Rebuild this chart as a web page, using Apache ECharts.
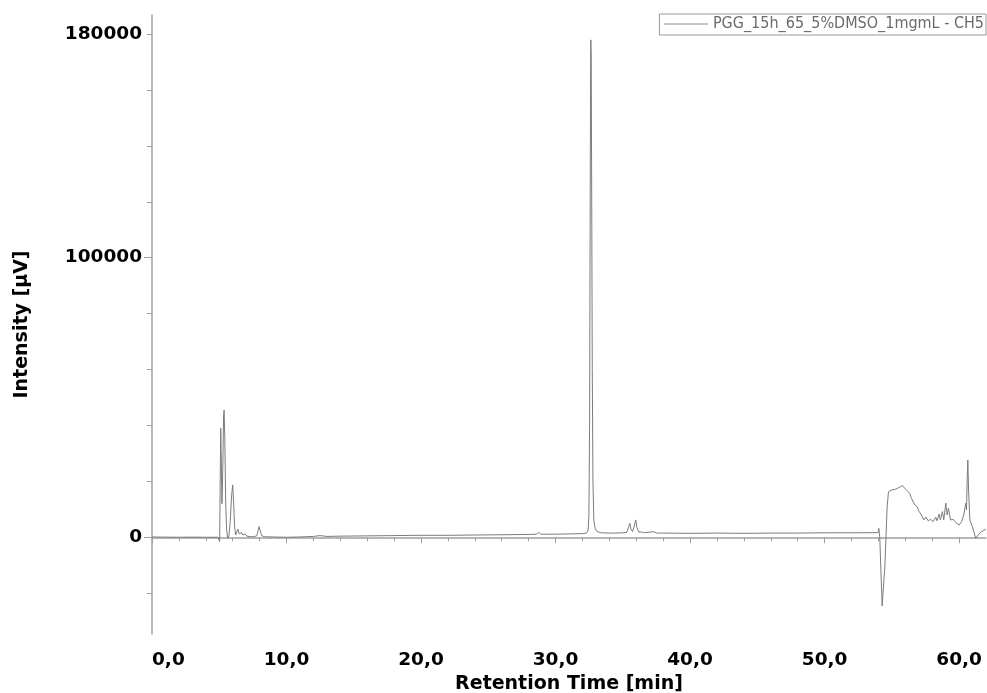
<!DOCTYPE html>
<html>
<head>
<meta charset="utf-8">
<title>PGG_15h_65_5%DMSO_1mgmL - CH5</title>
<script src="https://cdn.jsdelivr.net/npm/echarts@6/dist/echarts.min.js"></script>
<style>
  html, body { margin: 0; padding: 0; background: #fff; }
  #chart { width: 987px; height: 693px; }
</style>
</head>
<body>
<div id="chart"></div>
<script>
// Chromatogram trace, channel CH5
const seriesName = 'PGG_15h_65_5%DMSO_1mgmL - CH5';

// Retention time [min]
const retentionTime = [
  0, 1, 2, 3, 4, 4.6, 4.9, 4.98, 5.03, 5.07, 5.11, 5.15, 5.2, 5.26, 5.32, 5.36, 5.41, 5.48,
  5.55, 5.63, 5.72, 5.82, 5.92, 6.0, 6.06, 6.14, 6.22, 6.3, 6.39, 6.48, 6.58, 6.65, 6.75,
  6.9, 7.05, 7.3, 7.6, 7.8, 7.9, 7.96, 8.03, 8.15, 8.35, 9, 10, 11, 12, 12.5, 13, 14, 16,
  18, 20, 22, 24, 26, 28, 28.6, 28.75, 28.9, 30, 31, 32, 32.3, 32.42, 32.48, 32.53, 32.57,
  32.6, 32.62, 32.65, 32.69, 32.73, 32.78, 32.85, 32.95, 33.1, 33.4, 34, 34.5, 35.0, 35.14,
  35.3, 35.42, 35.52, 35.6, 35.72, 35.85, 35.96, 36.05, 36.2, 36.4, 36.6, 37.3, 37.5, 38,
  40, 42, 44, 46, 48, 50, 52, 53.98, 54.03, 54.1, 54.28, 54.48, 54.65, 54.75, 54.97, 55.29,
  55.64, 55.79, 55.96, 56.33, 56.46, 56.58, 56.71, 56.88, 57.03, 57.2, 57.38, 57.53, 57.7,
  57.88, 58.07, 58.26, 58.36, 58.51, 58.61, 58.76, 58.86, 59.01, 59.11, 59.21, 59.36, 59.56,
  59.81, 60.0, 60.18, 60.35, 60.5, 60.55, 60.6, 60.65, 60.7, 60.8, 61.0, 61.24, 61.41,
  61.66, 61.99
];

// Detector signal [µV]
const intensity = [
  100, 50, 0, 50, 0, 0, 0, -200, -1500, 20000, 39000, 28000, 12000, 24000, 43000, 45500, 36000, 12000,
  2500, -400, 500, 6000, 15000, 18700, 13000, 4000, 800, 1400, 2900, 1200, 1100, 1700, 800,
  1200, 400, 200, 200, 600, 2800, 3800, 2500, 600, 200, 100, 0, 100, 300, 600, 300, 400, 500,
  600, 700, 700, 800, 900, 1000, 1100, 1800, 1100, 1100, 1200, 1300, 1500, 2500, 8000, 40000, 110000,
  160000, 177900, 172000, 120000, 60000, 20000, 6000, 3000, 2000, 1600, 1500, 1500, 1600, 2200,
  1800, 3500, 5000, 3000, 2000, 4000, 6200, 3500, 1800, 1900, 1600, 2000, 1500, 1500,
  1400, 1500, 1400, 1500, 1500, 1600, 1600, 1650, 3200, 200, -24600, -10500, 10900, 16300, 16900, 17200,
  18100, 18500, 17500, 15700, 13900, 13300, 11600, 10900, 9200, 8000, 6200, 7200, 5900,
  6400, 5600, 7200, 5900, 8300, 6200, 9200, 6200, 12200, 8000, 10400, 6200, 6400,
  5000, 4400, 5600, 8000, 12200, 9800, 20500, 27600, 17600, 6200, 3600, -400, 800,
  2000, 2900
];

// Axis extents and tick positions
const xRange = [0, 62];
const yRange = [-34600, 186800];
const xMajorTicks = [0, 10, 20, 30, 40, 50, 60];
const xMinorTicks = [2, 4, 6, 8, 12, 14, 16, 18, 22, 24, 26, 28, 32, 34, 36, 38, 42, 44, 46, 48, 52, 54, 56, 58];
const yLabelTicks = [0, 100000, 180000];
const yMajorTicks = [0, 100000];
const yMinorTicks = [-20000, 20000, 40000, 60000, 80000, 120000, 140000, 160000, 180000];

const trace = retentionTime.map((t, i) => [t, intensity[i]]);

const axisGray = '#a0a0a0';
const traceGray = '#7c7c7c';
const labelFont = { color: '#000', fontWeight: 'bold', fontSize: 18.5, fontFamily: 'DejaVu Sans' };
const nameFont = { color: '#000', fontWeight: 'bold', fontSize: 19, fontFamily: 'DejaVu Sans' };

const gridRect = { left: 152, right: 1, top: 15, bottom: 59, containLabel: false, outerBoundsMode: 'none' };

const chart = echarts.init(document.getElementById('chart'), null, { renderer: 'canvas' });
chart.setOption({
  animation: false,
  backgroundColor: '#fff',
  color: [traceGray],
  legend: {
    show: true,
    right: 1,
    top: 14,
    padding: [2, 2, 3, 4],
    borderColor: '#9a9a9a',
    borderWidth: 1,
    itemWidth: 44,
    itemHeight: 14,
    itemStyle: { opacity: 0 },
    lineStyle: { color: '#8a8a8a', width: 1 },
    textStyle: { color: '#6a6a6a', fontSize: 16, fontFamily: 'DejaVu Sans Condensed' }
  },
  grid: [
    Object.assign({}, gridRect),
    Object.assign({}, gridRect)
  ],
  xAxis: [
    {
      type: 'value', gridIndex: 0, min: xRange[0], max: xRange[1],
      name: 'Retention Time [min]', nameLocation: 'middle', nameGap: 37,
      nameTextStyle: nameFont,
      axisLine: { show: true, lineStyle: { color: axisGray, width: 1.5 } },
      axisTick: { show: true, length: 6, customValues: xMajorTicks, lineStyle: { color: axisGray, width: 1 } },
      axisLabel: Object.assign({ margin: 17, customValues: xMajorTicks, alignMinLabel: 'left',
        formatter: v => v.toFixed(1).replace('.', ',') }, labelFont),
      splitLine: { show: false }
    },
    {
      type: 'value', gridIndex: 1, min: xRange[0], max: xRange[1],
      axisLine: { show: false },
      axisTick: { show: true, length: 4, customValues: xMinorTicks, lineStyle: { color: axisGray, width: 1 } },
      axisLabel: { show: false },
      splitLine: { show: false }
    }
  ],
  yAxis: [
    {
      type: 'value', gridIndex: 0, min: yRange[0], max: yRange[1],
      name: 'Intensity [µV]', nameLocation: 'middle', nameGap: 120,
      nameTextStyle: nameFont,
      axisLine: { show: true, lineStyle: { color: axisGray, width: 1.5 } },
      axisTick: { show: true, length: 8, customValues: yMajorTicks, lineStyle: { color: axisGray, width: 1 } },
      axisLabel: Object.assign({ margin: 10, customValues: yLabelTicks, formatter: v => String(v) }, labelFont),
      splitLine: { show: false }
    },
    {
      type: 'value', gridIndex: 1, min: yRange[0], max: yRange[1],
      axisLine: { show: false },
      axisTick: { show: true, length: 5, customValues: yMinorTicks, lineStyle: { color: axisGray, width: 1 } },
      axisLabel: { show: false },
      splitLine: { show: false }
    }
  ],
  series: [
    {
      name: seriesName,
      type: 'line',
      xAxisIndex: 0,
      yAxisIndex: 0,
      data: trace,
      symbol: 'none',
      lineStyle: { color: traceGray, width: 1 },
      itemStyle: { color: traceGray },
      emphasis: { disabled: true }
    }
  ]
});
</script>
</body>
</html>
